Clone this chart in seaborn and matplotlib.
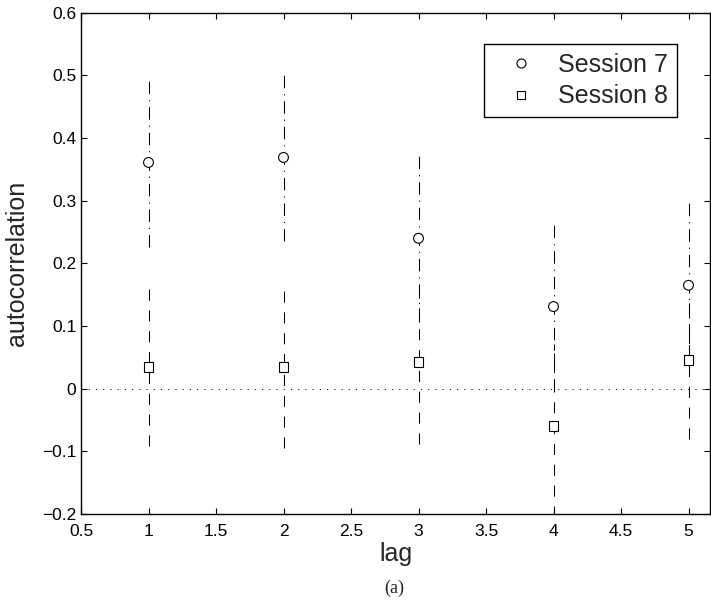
import matplotlib
matplotlib.use("Agg")
import matplotlib.pyplot as plt
from matplotlib.lines import Line2D
import seaborn as sns
import pandas as pd

# ---- data ----
lags = [1, 2, 3, 4, 5]
session7 = [0.361, 0.369, 0.240, 0.131, 0.165]
session7_low = [0.226, 0.236, 0.106, -0.004, 0.031]
session7_high = [0.495, 0.504, 0.374, 0.265, 0.299]
session8 = [0.0345, 0.0345, 0.042, -0.059, 0.046]
session8_low = [-0.092, -0.094, -0.089, -0.205, -0.081]
session8_high = [0.162, 0.163, 0.172, 0.072, 0.175]
series_names = ["Session 7", "Session 8"]
xticks = [0.5, 1, 1.5, 2, 2.5, 3, 3.5, 4, 4.5, 5]
yticks = [-0.2, -0.1, 0, 0.1, 0.2, 0.3, 0.4, 0.5, 0.6]

sns.set_theme(style="white")
plt.rcParams["font.family"] = ["Liberation Sans", "DejaVu Sans"]
plt.rcParams["lines.scale_dashes"] = False
plt.rcParams["axes.unicode_minus"] = True

df = pd.DataFrame({
    "lag": lags * 2,
    "value": session7 + session8,
    "session": [series_names[0]] * 5 + [series_names[1]] * 5,
})

fig = plt.figure(figsize=(7.11, 6.06), dpi=100)
ax = fig.add_axes([81 / 711, 1 - 514 / 606, 629 / 711, (514 - 12.7) / 606])

# zero reference line
ax.axhline(0, color="black", lw=0.7, linestyle=(0, (0.8, 4.4)), zorder=1)

# error bars
ax.vlines(lags, session7_low, session7_high, colors="black", lw=0.75,
          linestyles=[(0, (9, 4.3, 0.8, 4.3))], zorder=2)
ax.vlines(lags, session8_low, session8_high, colors="black", lw=0.75,
          linestyles=[(0, (8, 7))], zorder=2)

sns.scatterplot(data=df, x="lag", y="value", style="session",
                markers={series_names[0]: "o", series_names[1]: "s"},
                s=50, color="white", edgecolor="black", linewidth=0.8,
                legend=False, ax=ax, zorder=3)

ax.set_xlim(0.5, 0.5 + 629 / 135)
ax.set_ylim(-0.2, 0.6)
ax.set_xticks(xticks)
ax.set_xticklabels([f"{t:g}" for t in xticks])
ax.set_yticks(yticks)
ax.set_yticklabels([f"{t:g}".replace("-", "\u2212") for t in yticks])

for s in ax.spines.values():
    s.set_visible(True)
    s.set_color("black")
    s.set_linewidth(1.0)

ax.tick_params(axis="both", which="both", direction="in", length=4.5, width=0.8,
               top=True, right=True, bottom=True, left=True,
               labelsize=12.5, colors="black")
ax.tick_params(axis="x", pad=7)
ax.tick_params(axis="y", pad=3.5)

ax.set_xlabel("lag", fontsize=18)
ax.set_ylabel("autocorrelation", fontsize=18)
ax.xaxis.set_label_coords(0.5, -0.056)
ax.yaxis.set_label_coords(-0.082, 0.5)

handles = [
    Line2D([], [], marker="o", linestyle="none", markerfacecolor="white",
           markeredgecolor="black", markersize=6.5, markeredgewidth=0.8),
    Line2D([], [], marker="s", linestyle="none", markerfacecolor="white",
           markeredgecolor="black", markersize=6.0, markeredgewidth=0.8),
]
leg = ax.legend(handles, series_names, loc="upper right",
                bbox_to_anchor=(0.9475, 0.938), borderaxespad=0,
                fontsize=18, frameon=True, fancybox=False, framealpha=1,
                edgecolor="black", handlelength=2.2, handletextpad=0.4,
                borderpad=0.35, labelspacing=0.31)
leg.get_frame().set_linewidth(1.0)

fig.text(394.5 / 711, 1 - 588 / 606, "(a)", ha="center", va="center",
         fontsize=13, family=["Liberation Serif", "DejaVu Serif"])

fig.savefig("out.png", dpi=100)
